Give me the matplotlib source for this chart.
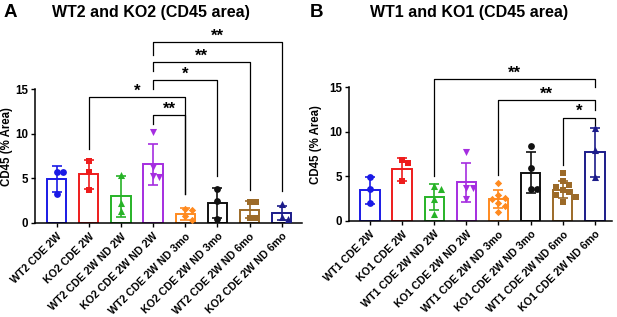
import numpy as np
import matplotlib
matplotlib.use('Agg')
import matplotlib.pyplot as plt

plt.rcParams.update({'font.family': ['Liberation Sans', 'DejaVu Sans'],
                     'font.weight': 'bold', 'axes.labelweight': 'bold'})

# ---- data ----
labels_a = ['WT2 CDE 2W', 'KO2 CDE 2W', 'WT2 CDE 2W ND 2W', 'KO2 CDE 2W ND 2W',
            'WT2 CDE 2W ND 3mo', 'KO2 CDE 2W ND 3mo', 'WT2 CDE 2W ND 6mo', 'KO2 CDE 2W ND 6mo']
means_a = [4.9, 5.45, 3.0, 6.6, 1.0, 2.2, 1.5, 1.1]
sd_a = [1.45, 1.65, 2.3, 2.3, 0.65, 1.7, 1.0, 0.75]
pts_a = [[5.7, 5.7, 3.3],
         [7.0, 5.7, 3.7],
         [5.4, 2.2, 1.3],
         [10.2, 6.3, 5.3, 5.1],
         [1.6, 1.5, 0.8, 0.3],
         [3.85, 2.5, 0.4],
         [2.4, 2.4, 0.6, 0.6],
         [2.15, 0.7, 0.45]]
# (group i, group j, bracket height, left leg end, right leg end, label)
sig_a = [(1, 4, 14.15, 8.3, 3.2, '*'),
         (3, 4, 12.1, 11.1, 3.2, '**'),
         (3, 5, 16.0, 15.0, 5.25, '*'),
         (3, 6, 18.1, 17.1, 3.7, '**'),
         (3, 7, 20.3, 18.8, 3.6, '**')]

labels_b = ['WT1 CDE 2W', 'KO1 CDE 2W', 'WT1 CDE 2W ND 2W', 'KO1 CDE 2W ND 2W',
            'WT1 CDE 2W ND 3mo', 'KO1 CDE 2W ND 3mo', 'WT1 CDE 2W ND 6mo', 'KO1 CDE 2W ND 6mo']
means_b = [3.4, 5.8, 2.7, 4.3, 2.4, 5.4, 3.5, 7.7]
sd_b = [1.5, 1.3, 1.45, 2.2, 1.0, 2.3, 1.0, 2.75]
pts_b = [[4.9, 3.6, 1.96],
         [6.8, 6.45, 4.5],
         [3.9, 3.6, 2.4, 0.8],
         [7.7, 3.7, 3.7, 2.4],
         [4.2, 2.9, 2.6, 2.4, 2.0, 1.6, 1.0],
         [8.4, 5.9, 3.6, 3.6],
         [5.4, 4.5, 4.0, 3.8, 3.4, 3.2, 2.9, 2.7, 2.1],
         [10.4, 8.0, 4.9]]
sig_b = [(2, 7, 15.9, 5.0, 15.0, '**'),
         (4, 7, 13.6, 5.1, 12.4, '**'),
         (6, 7, 11.6, 6.25, 10.75, '*')]

colors = ['#1a1ae6', '#ee1c1c', '#27b327', '#a52ee0', '#ff8a1f', '#111111', '#9c6a28', '#1c1c8a']
markers = ['o', 's', '^', 'v', 'D', 'o', 's', '^']
msize = [24, 22, 26, 26, 14, 24, 22, 26]


def swarm(vals, xpx=32.0, ypx=8.9, diam=6.3, step=0.2):
    # simple beeswarm: shift points sideways until they don't overlap
    placed = []
    offs = np.zeros(len(vals))
    for k in np.argsort(vals)[::-1]:
        v = vals[k]
        for n in range(12):
            o = 0.0 if n == 0 else ((n + 1) // 2) * step * (1 if n % 2 else -1)
            if all(np.hypot((o - po) * xpx, (v - pv) * ypx) >= diam for po, pv in placed):
                break
        placed.append((o, v))
        offs[k] = o
    return offs


def panel(ax, labels, means, sd, pts, sig, xlim, lab_x):
    x = np.arange(len(labels))
    for i in x:
        c = colors[i]
        ax.bar(i, means[i], width=0.6, facecolor='white', edgecolor=c, linewidth=1.4, zorder=2)
        ax.errorbar(i, means[i], yerr=sd[i], fmt='none', ecolor=c, elinewidth=1.2,
                    capsize=3.6, capthick=1.2, zorder=3)
        v = np.array(pts[i])
        ax.scatter(i + swarm(v), v, s=msize[i], marker=markers[i],
                   color=c, zorder=4, linewidths=0)
    for i, j, h, yl, yr, lab in sig:
        ax.plot([i, i, j, j], [yl, h, h, yr], color='black', lw=0.9, clip_on=False, zorder=5)
        ax.annotate(lab, ((i + j) / 2, h), xytext=(0, 1.0), textcoords='offset points',
                    ha='center', va='baseline', fontsize=12, fontweight='bold',
                    annotation_clip=False)
    ax.set_xlim(*xlim)
    ax.set_ylim(0, 15)
    ax.set_yticks([0, 5, 10, 15])
    ax.set_xticks(x)
    ax.set_xticklabels(labels, rotation=45, ha='right', rotation_mode='anchor', fontsize=7.7)
    ax.tick_params(axis='y', labelsize=8.3, length=3, width=1, pad=2)
    ax.tick_params(axis='x', length=3, width=1, pad=3)
    ax.spines[['top', 'right']].set_visible(False)
    for s in ('left', 'bottom'):
        ax.spines[s].set_linewidth(1.1)
    ax.set_ylabel('CD45 (% Area)', fontsize=8.3, fontweight='bold')
    ax.yaxis.set_label_coords(lab_x, 0.57)


fig = plt.figure(figsize=(6.17, 3.17), dpi=100)
ax_a = fig.add_axes([0.0567, 0.2968, 0.4327, 0.4215])
ax_b = fig.add_axes([0.5656, 0.3038, 0.4263, 0.4208])

panel(ax_a, labels_a, means_a, sd_a, pts_a, sig_a, (-0.67, 7.63), -0.084)
panel(ax_b, labels_b, means_b, sd_b, pts_b, sig_b, (-0.65, 7.53), -0.102)

fig.text(0.005, 0.962, 'A', fontsize=13.5, fontweight='bold', va='center', ha='left')
fig.text(0.245, 0.962, 'WT2 and KO2 (CD45 area)', fontsize=11.5, fontweight='bold',
         va='center', ha='center')
fig.text(0.502, 0.962, 'B', fontsize=13.5, fontweight='bold', va='center', ha='left')
fig.text(0.761, 0.962, 'WT1 and KO1 (CD45 area)', fontsize=11.5, fontweight='bold',
         va='center', ha='center')

fig.savefig('out.png', dpi=100)
